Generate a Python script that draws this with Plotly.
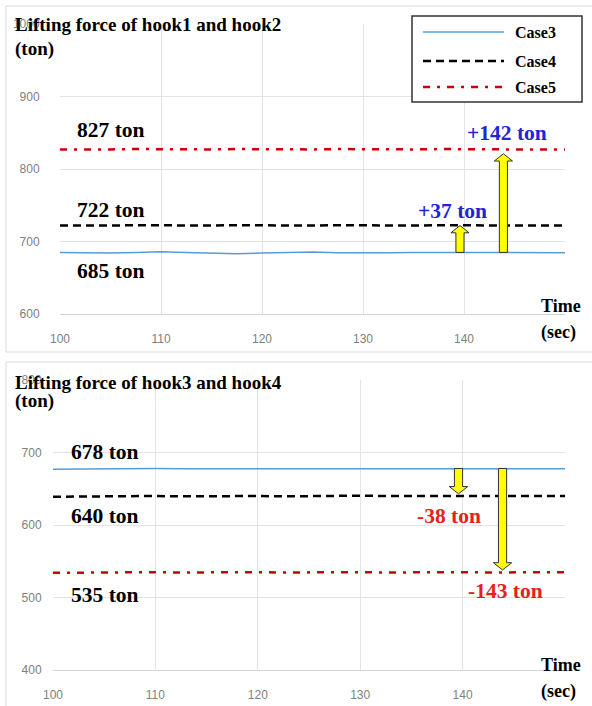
import plotly.graph_objects as go

W, H = 592, 706

# ---------------- data ----------------
time = [100, 102.5, 105, 107.5, 110, 112.5, 115, 117.5, 120, 122.5, 125,
        127.5, 130, 132.5, 135, 137.5, 140, 142.5, 145, 147.5, 150]

# hook1 & hook2
case3_top = [685, 684.5, 684, 685, 686, 685, 683.5, 683, 684, 685, 685.5,
             684.5, 684, 684.5, 685, 685, 684.5, 684, 684.5, 685, 684.5]
case4_top = [722, 721.5, 722, 722.5, 722, 721.5, 722, 722.5, 722, 721.5, 722,
             722.5, 722, 721.5, 722, 722.5, 722, 721.5, 722, 722, 722]
case5_top = [827, 826.5, 827, 827.5, 827, 826.5, 827, 827.5, 827, 826.5, 827,
             827.5, 827, 826.5, 827, 827.5, 827, 826.5, 827, 827, 827]

# hook3 & hook4
case3_bot = [677, 677.5, 678, 678.5, 678, 677.5, 677.5, 678, 678.5, 678, 677.5,
             678, 678.5, 678, 677.5, 678, 678.5, 678, 677.5, 677.5, 677.5]
case4_bot = [639, 639.5, 640, 640.5, 640, 639.5, 640, 640.5, 640, 639.5, 640,
             640, 640.5, 640, 639.5, 640, 640, 640, 639.5, 640, 640]
case5_bot = [534, 534.5, 535, 535.5, 535, 534.5, 535, 535.5, 535, 534.5, 535,
             535.5, 535, 534.5, 535, 535.5, 535, 534.5, 535, 535, 535]

series_names = ["Case3", "Case4", "Case5"]
x_ticks = [100, 110, 120, 130, 140, 150]
y_ticks_top = [600, 700, 800, 900, 1000]
y_ticks_bot = [400, 500, 600, 700, 800]

# reference levels and differences
levels_top = [685, 722, 827]
levels_bot = [678, 640, 535]
diff_top = ["+37 ton", "+142 ton"]
diff_bot = ["-38 ton", "-143 ton"]
arrow_x = [139.6, 143.9]

titles = ["Lifting force of hook1 and hook2", "Lifting force of hook3 and hook4"]

# ---------------- style ----------------
BLUE = "#5b9bd5"
BLACK = "#000000"
RED = "#cc0000"
SERIF = "Liberation Serif"
styles = [dict(color=BLUE, width=1.5, dash="solid"),
          dict(color=BLACK, width=2.5, dash="8px,5px"),
          dict(color=RED, width=2.5, dash="7px,7px,3px,7px")]


def px(x):
    return x / W


def py(y):
    return 1 - y / H


fig = go.Figure()
for i, (vals, st) in enumerate(zip([case3_top, case4_top, case5_top], styles)):
    fig.add_trace(go.Scatter(x=time, y=vals, mode="lines", line=st,
                             name=series_names[i], showlegend=False,
                             xaxis="x", yaxis="y"))
for i, (vals, st) in enumerate(zip([case3_bot, case4_bot, case5_bot], styles)):
    fig.add_trace(go.Scatter(x=time, y=vals, mode="lines", line=st,
                             name=series_names[i], showlegend=False,
                             xaxis="x2", yaxis="y2"))

tickfont = dict(family="Liberation Sans", size=12, color="#808080")
common_x = dict(range=[100, 150], tickvals=x_ticks, showgrid=True,
                gridcolor="#e3e3e3", gridwidth=1, showline=True,
                linecolor="#d4d4d4", linewidth=1, zeroline=False,
                ticks="outside", ticklen=14, tickcolor="rgba(0,0,0,0)",
                tickfont=tickfont, fixedrange=True, automargin=False)
common_y = dict(showgrid=True, gridcolor="#e3e3e3", gridwidth=1,
                showline=False, zeroline=False, ticks="outside",
                tickcolor="rgba(0,0,0,0)", tickfont=tickfont, fixedrange=True,
                automargin=False)

fig.update_layout(
    width=W, height=H,
    margin=dict(l=0, r=0, t=0, b=0, pad=0),
    paper_bgcolor="white", plot_bgcolor="white",
    showlegend=False,
    xaxis=dict(domain=[px(60), px(565)], anchor="y", **common_x),
    yaxis=dict(domain=[py(314), py(24)], range=[600, 1000],
               tickvals=y_ticks_top, anchor="x", ticklen=17, **common_y),
    xaxis2=dict(domain=[px(53), px(565)], anchor="y2", **common_x),
    yaxis2=dict(domain=[py(670), py(380)], range=[400, 800],
                tickvals=y_ticks_bot, anchor="x2", ticklen=8, **common_y),
)

shapes = []
# panel frames
shapes.append(dict(type="rect", xref="paper", yref="paper", x0=px(6), x1=px(600),
                   y0=py(352), y1=py(6), line=dict(color="#d9d9d9", width=1), layer="below"))
shapes.append(dict(type="rect", xref="paper", yref="paper", x0=px(6), x1=px(600),
                   y0=py(720), y1=py(362), line=dict(color="#d9d9d9", width=1), layer="below"))


def arrow(xc, y0, y1, xr, yr):
    # block arrow from y0 to tip at y1 in data coordinates
    sw, hw = 0.4, 0.9
    hh = 10 * (1 if y1 > y0 else -1)
    ys = y1 - hh
    path = (f"M {xc-sw},{y0} L {xc-sw},{ys} L {xc-hw},{ys} L {xc},{y1} "
            f"L {xc+hw},{ys} L {xc+sw},{ys} L {xc+sw},{y0} Z")
    return dict(type="path", xref=xr, yref=yr, path=path,
                fillcolor="#ffff00", line=dict(color="#333333", width=1))


shapes.append(arrow(arrow_x[0], levels_top[0], levels_top[1], "x", "y"))
shapes.append(arrow(arrow_x[1], levels_top[0], levels_top[2] - 6, "x", "y"))
shapes.append(arrow(arrow_x[0], levels_bot[0], levels_bot[1] + 3, "x2", "y2"))
shapes.append(arrow(arrow_x[1], levels_bot[0], levels_bot[2] + 3, "x2", "y2"))

# legend box (manual)
shapes.append(dict(type="rect", xref="paper", yref="paper", x0=px(412), x1=px(582),
                   y0=py(102), y1=py(16), line=dict(color="#333333", width=1.5),
                   fillcolor="white"))
leg_y = [32, 61, 87]
for st, ly in zip(styles, leg_y):
    shapes.append(dict(type="line", xref="paper", yref="paper", x0=px(423), x1=px(504),
                       y0=py(ly), y1=py(ly), line=st))
fig.update_layout(shapes=shapes)

ann = []


def txt(text, x, y, size, color="black", xanchor="left", bg=None):
    d = dict(text=f"<b>{text}</b>", x=px(x), y=py(y), xref="paper", yref="paper",
             showarrow=False, xanchor=xanchor, yanchor="middle", borderpad=0,
             font=dict(family=SERIF, size=size, color=color))
    if bg:
        d["bgcolor"] = bg
    ann.append(d)


for name, ly in zip(series_names, leg_y):
    txt(name, 514, ly, 16)

# titles
txt(titles[0], 14, 24, 19)
txt("(ton)", 14, 49, 19)
txt(titles[1], 14, 382, 19)
txt("(ton)", 14, 401, 19)
txt("Time", 540, 306, 18)
txt("(sec)", 540, 332, 18, bg="white")
txt("Time", 540, 665, 18)
txt("(sec)", 540, 691, 18, bg="white")

# level labels
LS = 21.5
txt(f"{levels_top[2]} ton", 76, 130, LS)
txt(f"{levels_top[1]} ton", 76, 210, LS)
txt(f"{levels_top[0]} ton", 76, 271, LS)
txt(f"{levels_bot[0]} ton", 70, 452, LS)
txt(f"{levels_bot[1]} ton", 70, 516, LS)
txt(f"{levels_bot[2]} ton", 70, 595, LS)

txt(diff_top[0], 452, 211, LS, color="#2323d8", xanchor="center")
txt(diff_top[1], 507, 133, LS, color="#2323d8", xanchor="center")
txt(diff_bot[0], 449, 516, LS, color="#e8201c", xanchor="center")
txt(diff_bot[1], 505, 591, LS, color="#e8201c", xanchor="center")

fig.update_layout(annotations=ann)
fig.write_html("out.html",
               config={"displayModeBar": False, "staticPlot": True},
               post_script="document.body.style.margin='0';document.body.style.overflow='hidden';")
